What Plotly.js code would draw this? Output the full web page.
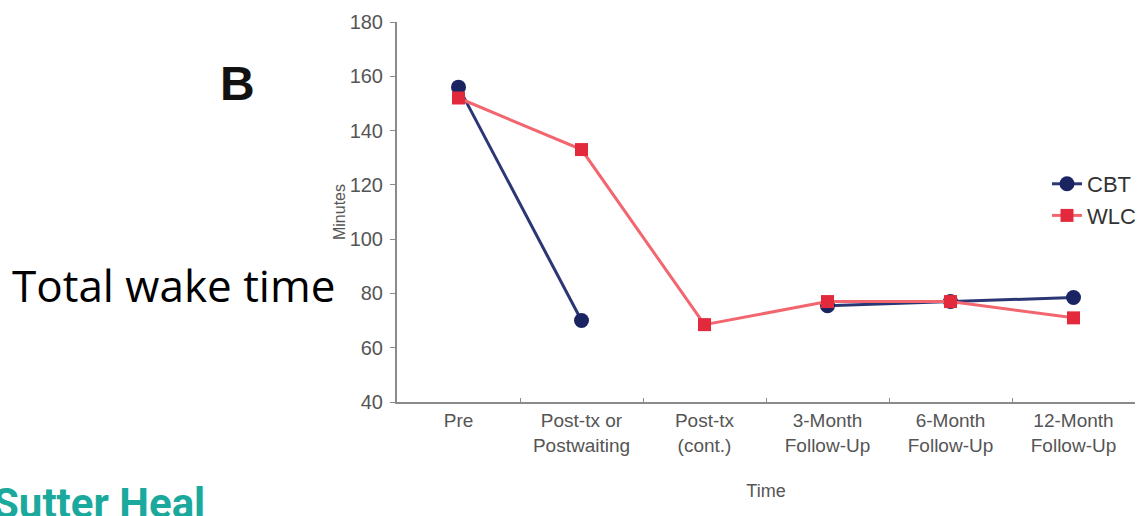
<!DOCTYPE html>
<html>
<head>
<meta charset="utf-8">
<script src="https://cdn.plot.ly/plotly-3.0.1.min.js"></script>
<style>
  html, body { margin: 0; padding: 0; background: #ffffff; }
  #chart { width: 1147px; height: 516px; }
</style>
</head>
<body>
<div id="chart"></div>
<script>
// Time points (x categories)
var categories = [
  "Pre",
  "Post-tx or<br>Postwaiting",
  "Post-tx<br>(cont.)",
  "3-Month<br>Follow-Up",
  "6-Month<br>Follow-Up",
  "12-Month<br>Follow-Up"
];
// Total wake time, minutes
var cbtValues = [156, 70, null, 75.5, 77, 78.5];
var wlcValues = [152, 133, 68.5, 77, 77, 71];
var yTicks = [40, 60, 80, 100, 120, 140, 160, 180];

var baseFamily = "Liberation Sans, Arial, sans-serif";

var traces = [
  {
    name: "CBT",
    x: categories,
    y: cbtValues,
    type: "scatter",
    mode: "lines+markers",
    connectgaps: false,
    line: { color: "#2b3674", width: 3 },
    marker: { symbol: "circle", size: 15, color: "#1b2463" }
  },
  {
    name: "WLC",
    x: categories,
    y: wlcValues,
    type: "scatter",
    mode: "lines+markers",
    line: { color: "#f2676f", width: 3 },
    marker: { symbol: "square", size: 13, color: "#e32a3c" }
  }
];

function px(xp) { return (xp - 397) / 738; }
function py(yp) { return (402 - yp) / 380; }

var layout = {
  width: 1147,
  height: 516,
  margin: { l: 397, r: 12, t: 22, b: 114, pad: 0, autoexpand: false },
  paper_bgcolor: "#ffffff",
  plot_bgcolor: "#ffffff",
  showlegend: true,
  legend: {
    x: px(1141), xanchor: "right",
    y: py(200), yanchor: "middle",
    font: { family: baseFamily, size: 22, color: "#333333" },
    bgcolor: "rgba(0,0,0,0)",
    borderwidth: 0
  },
  xaxis: {
    type: "category",
    range: [-0.5, 5.5],
    showgrid: false,
    zeroline: false,
    showline: true,
    linecolor: "#8a8a8a",
    linewidth: 2,
    ticks: "inside",
    tickson: "boundaries",
    ticklen: 4,
    tickcolor: "#8a8a8a",
    tickfont: { family: baseFamily, size: 19, color: "#555555" },
    title: {
      text: "Time",
      font: { family: baseFamily, size: 18, color: "#555555" },
      standoff: 30
    },
    fixedrange: true
  },
  yaxis: {
    range: [40, 180],
    tickvals: yTicks,
    ticktext: yTicks.map(String),
    showgrid: false,
    zeroline: false,
    showline: true,
    linecolor: "#8a8a8a",
    linewidth: 2,
    ticks: "outside",
    ticklen: 5,
    tickcolor: "#8a8a8a",
    ticklabelstandoff: 3,
    tickfont: { family: baseFamily, size: 20, color: "#555555" },
    title: {
      text: "Minutes",
      font: { family: baseFamily, size: 16, color: "#555555" },
      standoff: 0
    },
    fixedrange: true
  },
  annotations: [
    {
      text: "B",
      xref: "paper", yref: "paper",
      x: px(237), y: py(84),
      xanchor: "center", yanchor: "middle",
      showarrow: false,
      font: { family: baseFamily, size: 48, color: "#111111", weight: "bold" }
    },
    {
      text: "Total wake time",
      xref: "paper", yref: "paper",
      x: px(10), y: py(285),
      xanchor: "left", yanchor: "middle",
      showarrow: false,
      font: { family: "Open Sans, sans-serif", size: 44, color: "#000000" }
    },
    {
      text: "Sutter Heal",
      xref: "paper", yref: "paper",
      x: px(-9), y: py(477),
      xanchor: "left", yanchor: "top",
      showarrow: false,
      font: { family: "Roboto, Liberation Sans, Arial, sans-serif", size: 42, color: "#1aa99c", weight: "bold" }
    }
  ]
};

Plotly.newPlot("chart", traces, layout, { displayModeBar: false, staticPlot: true });
</script>
</body>
</html>
